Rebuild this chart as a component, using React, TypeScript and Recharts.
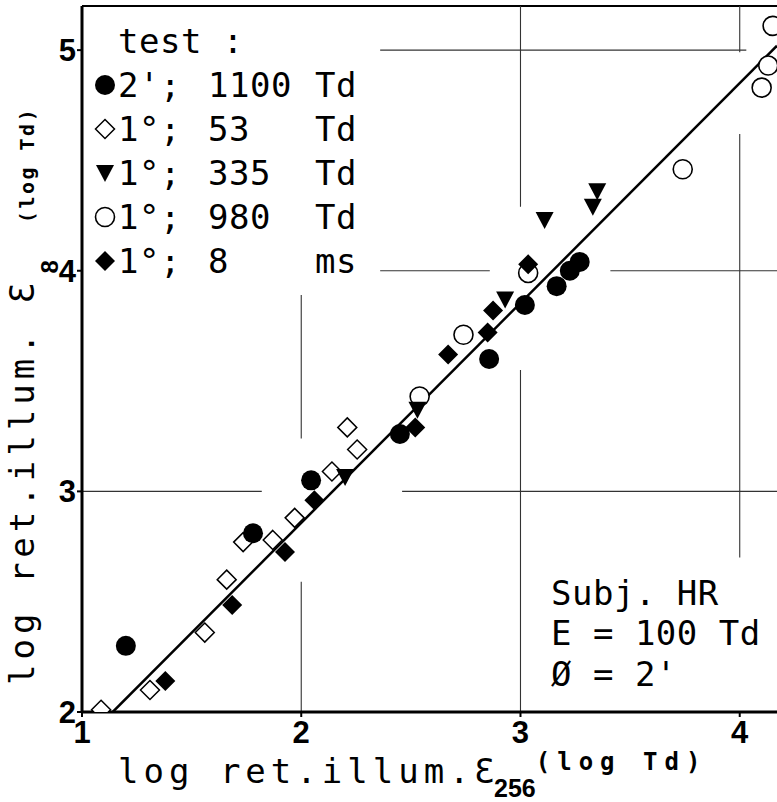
import React from 'react';
import { ScatterChart, Scatter, XAxis, YAxis, ReferenceLine } from 'recharts';

// test: 2'; 1100 Td  (filled circles)
const circFillX = [1.2, 1.78, 2.045, 2.45, 2.857, 3.02, 3.165, 3.225, 3.27];
const circFillY = [2.3, 2.81, 3.05, 3.26, 3.6, 3.845, 3.93, 4.0, 4.04];

// 1°; 53 Td  (open diamonds)
const diaOpenX = [1.087, 1.31, 1.56, 1.66, 1.735, 1.87, 1.97, 2.14, 2.255, 2.21];
const diaOpenY = [2.01, 2.1, 2.36, 2.6, 2.77, 2.78, 2.88, 3.09, 3.19, 3.29];

// 1°; 335 Td  (filled triangles)
const triX = [2.2, 2.53, 2.93, 3.11, 3.33, 3.35];
const triY = [3.065, 3.37, 3.87, 4.23, 4.29, 4.36];

// 1°; 980 Td  (open circles)
const circOpenX = [2.54, 2.74, 3.035, 3.74, 4.1, 4.13, 4.15];
const circOpenY = [3.43, 3.71, 3.99, 4.46, 4.83, 4.93, 5.11];

// 1°; 8 ms  (filled diamonds)
const diaFillX = [1.38, 1.685, 1.926, 2.06, 2.52, 2.67, 2.85, 2.875, 3.035];
const diaFillY = [2.14, 2.485, 2.725, 2.96, 3.29, 3.62, 3.72, 3.82, 4.03];

// fitted line
const fitX = [1.14, 4.17];
const fitY = [2.0, 5.02];

const xTicks = [1, 2, 3, 4];
const yTicks = [2, 3, 4, 5];

// broken grid lines, as in the printed figure
const gridH = [
  { v: 3, from: 1, to: 1.82 },
  { v: 3, from: 2.46, to: 4.17 },
  { v: 4, from: 2.36, to: 2.86 },
  { v: 4, from: 3.41, to: 4.17 },
  { v: 5, from: 2.36, to: 4.03 },
];
const gridV = [
  { v: 2, from: 3.24, to: 3.89 },
  { v: 2, from: 2, to: 2.59 },
  { v: 3, from: 4.29, to: 5.2 },
  { v: 3, from: 2, to: 3.55 },
  { v: 4, from: 4.99, to: 5.2 },
  { v: 4, from: 2.7, to: 4.62 },
];

const zip = (xs: number[], ys: number[]) => xs.map((x, i) => ({ x, y: ys[i] }));

const MONO = '"DejaVu Sans Mono", monospace';
const SANS = '"Liberation Sans", Arial, sans-serif';

const FilledCircle = (p: any) => <circle cx={p.cx} cy={p.cy} r={10} fill="#000" />;
const OpenCircle = (p: any) => <circle cx={p.cx} cy={p.cy} r={9.5} fill="#fff" stroke="#000" strokeWidth={1.6} />;
const diamond = (cx: number, cy: number, s: number) =>
  `M${cx},${cy - s} L${cx + s},${cy} L${cx},${cy + s} L${cx - s},${cy} Z`;
const OpenDiamond = (p: any) => <path d={diamond(p.cx, p.cy, 9.5)} fill="#fff" stroke="#000" strokeWidth={1.5} />;
const FilledDiamond = (p: any) => <path d={diamond(p.cx, p.cy, 10)} fill="#000" />;
const triangle = (cx: number, cy: number) =>
  `M${cx - 9},${cy - 8} L${cx + 9},${cy - 8} L${cx},${cy + 9} Z`;
const FilledTriangle = (p: any) => <path d={triangle(p.cx, p.cy)} fill="#000" />;

const legendRows = [
  { sym: 'fc', a: "2';", b: '1100', c: 'Td' },
  { sym: 'od', a: '1°;', b: '53', c: 'Td' },
  { sym: 'tr', a: '1°;', b: '335', c: 'Td' },
  { sym: 'oc', a: '1°;', b: '980', c: 'Td' },
  { sym: 'fd', a: '1°;', b: '8', c: 'ms' },
];

const Symbol = ({ kind, cx, cy }: { kind: string; cx: number; cy: number }) => {
  if (kind === 'fc') return <FilledCircle cx={cx} cy={cy} />;
  if (kind === 'oc') return <OpenCircle cx={cx} cy={cy} />;
  if (kind === 'od') return <OpenDiamond cx={cx} cy={cy} />;
  if (kind === 'fd') return <FilledDiamond cx={cx} cy={cy} />;
  return <FilledTriangle cx={cx} cy={cy} />;
};

const Overlay = () => (
  <svg width={777} height={802} style={{ position: 'absolute', left: 0, top: 0, pointerEvents: 'none' }}>
    <g fontFamily={MONO} fontSize={34} fill="#000">
      <text x={118} y={53} letterSpacing={0.5}>test :</text>
      {legendRows.map((r, i) => {
        const cy = 85 + i * 44;
        return (
          <g key={i}>
            <Symbol kind={r.sym} cx={105} cy={cy} />
            <text x={118} y={cy + 12} letterSpacing={0.5}>{r.a}</text>
            <text x={208} y={cy + 12} letterSpacing={0.5}>{r.b}</text>
            <text x={315} y={cy + 12} letterSpacing={0.5}>{r.c}</text>
          </g>
        );
      })}
      <text x={551} y={605} letterSpacing={0.5}>Subj. HR</text>
      <text x={551} y={645} letterSpacing={0.5}>E = 100 Td</text>
      <text x={551} y={686} letterSpacing={0.5}>Ø = 2'</text>
    </g>
    {/* x axis title */}
    <text x={118} y={783} fontFamily={MONO} fontSize={34} letterSpacing={5} fill="#000">
      log ret.illum.Ɛ
      <tspan dx={-6} dy={14} fontFamily={SANS} fontWeight={700} fontSize={25} letterSpacing={0}>256</tspan>
      <tspan dy={-27} fontWeight={700} fontSize={24} letterSpacing={7}>(log Td)</tspan>
    </text>
    {/* y axis title */}
    <text transform="rotate(-90)" x={-685} y={34} fontFamily={MONO} fontSize={34} letterSpacing={5} fill="#000">
      log ret.illum. Ɛ
      <tspan dx={4} dy={24} fontFamily={SANS} fontWeight={700} fontSize={24} letterSpacing={0}>8</tspan>
      <tspan dx={37} dy={-24} fontWeight={700} fontSize={20} letterSpacing={2.5}>(log Td)</tspan>
    </text>
  </svg>
);

export default function App() {
  const tickStyle = { fontSize: 31, fontWeight: 700, fill: '#000', fontFamily: SANS };
  return (
    <div style={{ position: 'absolute', left: 0, top: 0, width: 777, height: 802, background: '#fff' }}>
      <ScatterChart width={777} height={802} margin={{ top: 6, right: 0, bottom: 0, left: 0 }}>
        <XAxis
          type="number"
          dataKey="x"
          domain={[1, 4.17]}
          ticks={xTicks}
          allowDataOverflow
          height={90}
          axisLine={{ stroke: '#000', strokeWidth: 3 }}
          tickLine={{ stroke: '#000', strokeWidth: 2 }}
          tickSize={5}
          tickMargin={4}
          tick={tickStyle}
        />
        <YAxis
          type="number"
          dataKey="y"
          domain={[2, 5.2]}
          ticks={yTicks}
          allowDataOverflow
          width={82}
          axisLine={{ stroke: '#000', strokeWidth: 3 }}
          tickLine={{ stroke: '#000', strokeWidth: 2 }}
          tickSize={5}
          tickMargin={1}
          tick={tickStyle}
        />
        <ReferenceLine y={5.2} stroke="#000" strokeWidth={2} />
        {gridH.map((g, i) => (
          <ReferenceLine key={'h' + i} segment={[{ x: g.from, y: g.v }, { x: g.to, y: g.v }]} stroke="#333" strokeWidth={1.1} />
        ))}
        {gridV.map((g, i) => (
          <ReferenceLine key={'v' + i} segment={[{ x: g.v, y: g.from }, { x: g.v, y: g.to }]} stroke="#333" strokeWidth={1.1} />
        ))}
        <Scatter data={zip(fitX, fitY)} line={{ stroke: '#000', strokeWidth: 2.5 }} shape={() => <g />} isAnimationActive={false} />
        <Scatter data={zip(diaOpenX, diaOpenY)} shape={OpenDiamond} isAnimationActive={false} />
        <Scatter data={zip(circOpenX, circOpenY)} shape={OpenCircle} isAnimationActive={false} />
        <Scatter data={zip(triX, triY)} shape={FilledTriangle} isAnimationActive={false} />
        <Scatter data={zip(diaFillX, diaFillY)} shape={FilledDiamond} isAnimationActive={false} />
        <Scatter data={zip(circFillX, circFillY)} shape={FilledCircle} isAnimationActive={false} />
      </ScatterChart>
      <Overlay />
    </div>
  );
}
